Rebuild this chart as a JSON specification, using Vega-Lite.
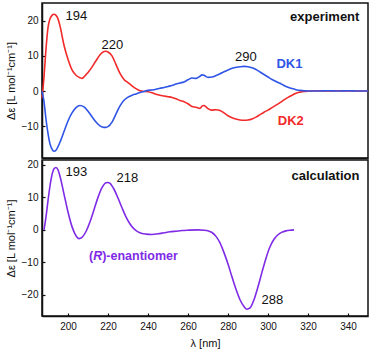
{
  "$schema": "https://vega.github.io/schema/vega-lite/v6.json",
  "padding": {"left": 4, "top": 2, "right": 0, "bottom": 0},
  "background": "white",
  "datasets": {
    "exp": [
      {"s":"DK2","l":187,"v":-2},{"s":"DK2","l":188,"v":4},{"s":"DK2","l":189,"v":12},{"s":"DK2","l":190,"v":18},{"s":"DK2","l":191,"v":20.5},{"s":"DK2","l":192,"v":21.5},{"s":"DK2","l":193,"v":21.8},{"s":"DK2","l":194,"v":21.5},{"s":"DK2","l":195,"v":20.5},{"s":"DK2","l":196,"v":18.5},{"s":"DK2","l":198,"v":13},{"s":"DK2","l":200,"v":9},{"s":"DK2","l":202,"v":6},{"s":"DK2","l":204,"v":4.5},{"s":"DK2","l":206,"v":3.8},{"s":"DK2","l":207,"v":3.6},{"s":"DK2","l":208,"v":4},{"s":"DK2","l":210,"v":5.3},{"s":"DK2","l":212,"v":6.8},{"s":"DK2","l":214,"v":8.6},{"s":"DK2","l":216,"v":10.3},{"s":"DK2","l":218,"v":11.2},{"s":"DK2","l":219,"v":11.3},{"s":"DK2","l":220,"v":11.1},{"s":"DK2","l":222,"v":10},{"s":"DK2","l":224,"v":7.5},{"s":"DK2","l":226,"v":5},{"s":"DK2","l":228,"v":3.3},{"s":"DK2","l":230,"v":2.4},{"s":"DK2","l":232,"v":1.5},{"s":"DK2","l":234,"v":0.7},{"s":"DK2","l":236,"v":0.1},{"s":"DK2","l":238,"v":-0.1},{"s":"DK2","l":240,"v":-0.2},{"s":"DK2","l":242,"v":-0.5},{"s":"DK2","l":244,"v":-0.9},{"s":"DK2","l":246,"v":-1.2},{"s":"DK2","l":248,"v":-1.4},{"s":"DK2","l":250,"v":-1.6},{"s":"DK2","l":252,"v":-1.8},{"s":"DK2","l":254,"v":-2.2},{"s":"DK2","l":256,"v":-2.7},{"s":"DK2","l":258,"v":-3},{"s":"DK2","l":260,"v":-3.6},{"s":"DK2","l":262,"v":-4.4},{"s":"DK2","l":264,"v":-4.6},{"s":"DK2","l":266,"v":-4.9},{"s":"DK2","l":267,"v":-4.3},{"s":"DK2","l":268,"v":-4.1},{"s":"DK2","l":269,"v":-4.5},{"s":"DK2","l":270,"v":-5},{"s":"DK2","l":272,"v":-5.4},{"s":"DK2","l":274,"v":-5.3},{"s":"DK2","l":276,"v":-5.5},{"s":"DK2","l":278,"v":-6.2},{"s":"DK2","l":280,"v":-7},{"s":"DK2","l":283,"v":-7.8},{"s":"DK2","l":286,"v":-8.2},{"s":"DK2","l":288,"v":-8.3},{"s":"DK2","l":290,"v":-8.2},{"s":"DK2","l":292,"v":-7.9},{"s":"DK2","l":294,"v":-7.4},{"s":"DK2","l":296,"v":-6.7},{"s":"DK2","l":298,"v":-6},{"s":"DK2","l":300,"v":-5.4},{"s":"DK2","l":302,"v":-4.7},{"s":"DK2","l":304,"v":-4},{"s":"DK2","l":306,"v":-3.3},{"s":"DK2","l":308,"v":-2.5},{"s":"DK2","l":310,"v":-1.8},{"s":"DK2","l":312,"v":-1.2},{"s":"DK2","l":314,"v":-0.6},{"s":"DK2","l":316,"v":-0.3},{"s":"DK2","l":318,"v":-0.1},{"s":"DK2","l":320,"v":0},{"s":"DK2","l":325,"v":0.1},{"s":"DK2","l":330,"v":0},{"s":"DK2","l":335,"v":0.1},{"s":"DK2","l":340,"v":0},{"s":"DK2","l":345,"v":0},{"s":"DK2","l":350,"v":0},
      {"s":"DK1","l":187,"v":0},{"s":"DK1","l":188,"v":-3},{"s":"DK1","l":189,"v":-8},{"s":"DK1","l":190,"v":-12},{"s":"DK1","l":191,"v":-15},{"s":"DK1","l":192,"v":-16.5},{"s":"DK1","l":193,"v":-17.1},{"s":"DK1","l":194,"v":-16.8},{"s":"DK1","l":195,"v":-15.8},{"s":"DK1","l":196,"v":-14.5},{"s":"DK1","l":198,"v":-11.5},{"s":"DK1","l":200,"v":-8.5},{"s":"DK1","l":202,"v":-6.2},{"s":"DK1","l":204,"v":-4.7},{"s":"DK1","l":206,"v":-4.1},{"s":"DK1","l":208,"v":-4.5},{"s":"DK1","l":210,"v":-5.7},{"s":"DK1","l":212,"v":-7.3},{"s":"DK1","l":214,"v":-8.8},{"s":"DK1","l":216,"v":-9.9},{"s":"DK1","l":218,"v":-10.3},{"s":"DK1","l":219,"v":-10.3},{"s":"DK1","l":220,"v":-10.1},{"s":"DK1","l":222,"v":-8.8},{"s":"DK1","l":224,"v":-6.5},{"s":"DK1","l":226,"v":-4.2},{"s":"DK1","l":228,"v":-2.6},{"s":"DK1","l":230,"v":-1.7},{"s":"DK1","l":232,"v":-1.2},{"s":"DK1","l":234,"v":-0.8},{"s":"DK1","l":236,"v":-0.4},{"s":"DK1","l":238,"v":-0.1},{"s":"DK1","l":240,"v":0.2},{"s":"DK1","l":242,"v":0.3},{"s":"DK1","l":244,"v":0.5},{"s":"DK1","l":246,"v":0.8},{"s":"DK1","l":248,"v":1},{"s":"DK1","l":250,"v":1.3},{"s":"DK1","l":252,"v":1.6},{"s":"DK1","l":254,"v":2},{"s":"DK1","l":256,"v":2.3},{"s":"DK1","l":258,"v":2.6},{"s":"DK1","l":260,"v":3.2},{"s":"DK1","l":262,"v":3.7},{"s":"DK1","l":264,"v":3.6},{"s":"DK1","l":266,"v":4.2},{"s":"DK1","l":267,"v":4.6},{"s":"DK1","l":268,"v":4.5},{"s":"DK1","l":269,"v":4.1},{"s":"DK1","l":270,"v":3.9},{"s":"DK1","l":272,"v":4},{"s":"DK1","l":274,"v":4.4},{"s":"DK1","l":276,"v":4.9},{"s":"DK1","l":278,"v":5.5},{"s":"DK1","l":280,"v":6},{"s":"DK1","l":283,"v":6.6},{"s":"DK1","l":286,"v":6.9},{"s":"DK1","l":288,"v":7},{"s":"DK1","l":290,"v":6.9},{"s":"DK1","l":292,"v":6.6},{"s":"DK1","l":294,"v":6.1},{"s":"DK1","l":296,"v":5.4},{"s":"DK1","l":298,"v":4.7},{"s":"DK1","l":300,"v":4},{"s":"DK1","l":302,"v":3.3},{"s":"DK1","l":304,"v":2.7},{"s":"DK1","l":306,"v":2.2},{"s":"DK1","l":308,"v":1.6},{"s":"DK1","l":310,"v":1.1},{"s":"DK1","l":312,"v":0.7},{"s":"DK1","l":314,"v":0.4},{"s":"DK1","l":316,"v":0.2},{"s":"DK1","l":318,"v":0.1},{"s":"DK1","l":320,"v":0},{"s":"DK1","l":325,"v":0},{"s":"DK1","l":330,"v":0.1},{"s":"DK1","l":335,"v":0},{"s":"DK1","l":340,"v":0.1},{"s":"DK1","l":345,"v":0},{"s":"DK1","l":350,"v":0}
    ],
    "calc": [
      {"l":188,"v":0},{"l":189,"v":4},{"l":190,"v":9},{"l":191,"v":13.5},{"l":192,"v":17},{"l":193,"v":18.8},{"l":194,"v":19.2},{"l":195,"v":18.5},{"l":196,"v":16.5},{"l":198,"v":11},{"l":200,"v":5.5},{"l":202,"v":1},{"l":204,"v":-1.8},{"l":205.5,"v":-2.7},{"l":207,"v":-2.3},{"l":209,"v":-0.5},{"l":211,"v":2.5},{"l":213,"v":6.2},{"l":215,"v":10},{"l":217,"v":13},{"l":219,"v":14.5},{"l":220,"v":14.6},{"l":221,"v":14.3},{"l":223,"v":12.5},{"l":225,"v":9.8},{"l":227,"v":6.8},{"l":229,"v":4},{"l":231,"v":1.8},{"l":233,"v":0.3},{"l":235,"v":-0.6},{"l":237,"v":-1.1},{"l":239,"v":-1.3},{"l":242,"v":-1.4},{"l":245,"v":-1.2},{"l":248,"v":-0.9},{"l":251,"v":-0.6},{"l":254,"v":-0.4},{"l":257,"v":-0.2},{"l":260,"v":-0.1},{"l":265,"v":0},{"l":268,"v":-0.1},{"l":270,"v":-0.3},{"l":272,"v":-0.8},{"l":274,"v":-2},{"l":276,"v":-4},{"l":278,"v":-7},{"l":280,"v":-10.5},{"l":282,"v":-14.5},{"l":284,"v":-18.3},{"l":286,"v":-21.5},{"l":288,"v":-23.6},{"l":289.5,"v":-24.4},{"l":291,"v":-24},{"l":293,"v":-21.5},{"l":295,"v":-17.5},{"l":297,"v":-13},{"l":299,"v":-8.7},{"l":301,"v":-5.2},{"l":303,"v":-2.9},{"l":305,"v":-1.5},{"l":307,"v":-0.7},{"l":309,"v":-0.3},{"l":311,"v":-0.1},{"l":313,"v":0}
    ],
    "topNums": [{"t":"194","l":204.2,"v":21.4},{"t":"220","l":222.2,"v":13.2},{"t":"290","l":288.9,"v":9.8}],
    "topTags": [{"t":"DK1","s":"DK1","l":310.7,"v":7.8},{"t":"DK2","s":"DK2","l":311.4,"v":-8.4}],
    "topTitle": [{"t":"experiment","l":345.7,"v":20.9}],
    "botNums": [{"t":"193","l":204.2,"v":17.7},{"t":"218","l":229.7,"v":16.1},{"t":"288","l":302.2,"v":-21.6}],
    "botTitle": [{"t":"calculation","l":345.7,"v":16.7}],
    "enant": [{"t":"(","l":210.5,"v":-7.9},{"t":"R","l":212.6,"v":-7.9},{"t":")-enantiomer","l":217.1,"v":-7.9}]
  },
  "spacing": 0,
  "vconcat": [
    {
      "width": 326,
      "height": 155,
      "encoding": {
        "x": {"field": "l", "type": "quantitative", "scale": {"domain": [187, 350], "nice": false, "zero": false}, "axis": {"labels": false, "title": null, "ticks": false, "values": [200,220,240,260,280,300,320,340]}},
        "y": {"field": "v", "type": "quantitative", "scale": {"domain": [-19, 25], "nice": false, "zero": false}, "axis": {"values": [-10, 0, 10, 20], "title": "Δε [L mol⁻¹cm⁻¹]"}}
      },
      "layer": [
        {
          "data": {"name": "exp"},
          "mark": {"type": "line", "strokeWidth": 1.6, "interpolate": "monotone"},
          "encoding": {
            "color": {"field": "s", "type": "nominal", "scale": {"domain": ["DK1", "DK2"], "range": ["#2f55e6", "#f22a2a"]}, "legend": null},
            "detail": {"field": "s"}
          }
        },
        {
          "data": {"name": "topNums"},
          "mark": {"type": "text", "fontSize": 13, "baseline": "middle", "align": "center", "color": "#111111"},
          "encoding": {"text": {"field": "t"}}
        },
        {
          "data": {"name": "topTags"},
          "mark": {"type": "text", "fontSize": 13, "fontWeight": "bold", "baseline": "middle", "align": "center"},
          "encoding": {"text": {"field": "t"}, "color": {"field": "s", "type": "nominal", "legend": null}}
        },
        {
          "data": {"name": "topTitle"},
          "mark": {"type": "text", "fontSize": 13, "fontWeight": "bold", "baseline": "middle", "align": "right", "color": "#111111"},
          "encoding": {"text": {"field": "t"}}
        }
      ]
    },
    {
      "width": 326,
      "height": 156,
      "encoding": {
        "x": {"field": "l", "type": "quantitative", "scale": {"domain": [187, 350], "nice": false, "zero": false}, "axis": {"values": [200,220,240,260,280,300,320,340], "title": "λ [nm]"}},
        "y": {"field": "v", "type": "quantitative", "scale": {"domain": [-26.5, 21.5], "nice": false, "zero": false}, "axis": {"values": [-20, -10, 0, 10, 20], "title": "Δε [L mol⁻¹cm⁻¹]"}}
      },
      "layer": [
        {
          "data": {"name": "calc"},
          "mark": {"type": "line", "strokeWidth": 1.6, "interpolate": "monotone", "color": "#7f2be6"}
        },
        {
          "data": {"name": "botNums"},
          "mark": {"type": "text", "fontSize": 13, "baseline": "middle", "align": "center", "color": "#111111"},
          "encoding": {"text": {"field": "t"}}
        },
        {
          "data": {"name": "botTitle"},
          "mark": {"type": "text", "fontSize": 13, "fontWeight": "bold", "baseline": "middle", "align": "right", "color": "#111111"},
          "encoding": {"text": {"field": "t"}}
        },
        {
          "data": {"name": "enant"},
          "transform": [{"filter": "datum.t !== 'R'"}],
          "mark": {"type": "text", "fontSize": 12.5, "fontWeight": "bold", "baseline": "middle", "align": "left", "color": "#7f2be6"},
          "encoding": {"text": {"field": "t"}}
        },
        {
          "data": {"name": "enant"},
          "transform": [{"filter": "datum.t === 'R'"}],
          "mark": {"type": "text", "fontSize": 12.5, "fontWeight": "bold", "fontStyle": "italic", "baseline": "middle", "align": "left", "color": "#7f2be6"},
          "encoding": {"text": {"field": "t"}}
        }
      ]
    }
  ],
  "config": {
    "font": "Liberation Sans",
    "view": {"stroke": "#111111", "strokeWidth": 1.5},
    "axis": {
      "grid": false,
      "domainColor": "#111111",
      "domainWidth": 1.5,
      "tickColor": "#111111",
      "tickSize": -3,
      "tickWidth": 1.2,
      "labelPadding": 7,
      "labelFontSize": 10,
      "labelColor": "#111111",
      "labelOverlap": false,
      "labelFlush": false,
      "titleFontSize": 11,
      "titleFontWeight": "normal",
      "titleColor": "#111111"
    },
    "axisY": {"titlePadding": 5},
    "axisX": {"labelPadding": 8, "titlePadding": 6}
  }
}
